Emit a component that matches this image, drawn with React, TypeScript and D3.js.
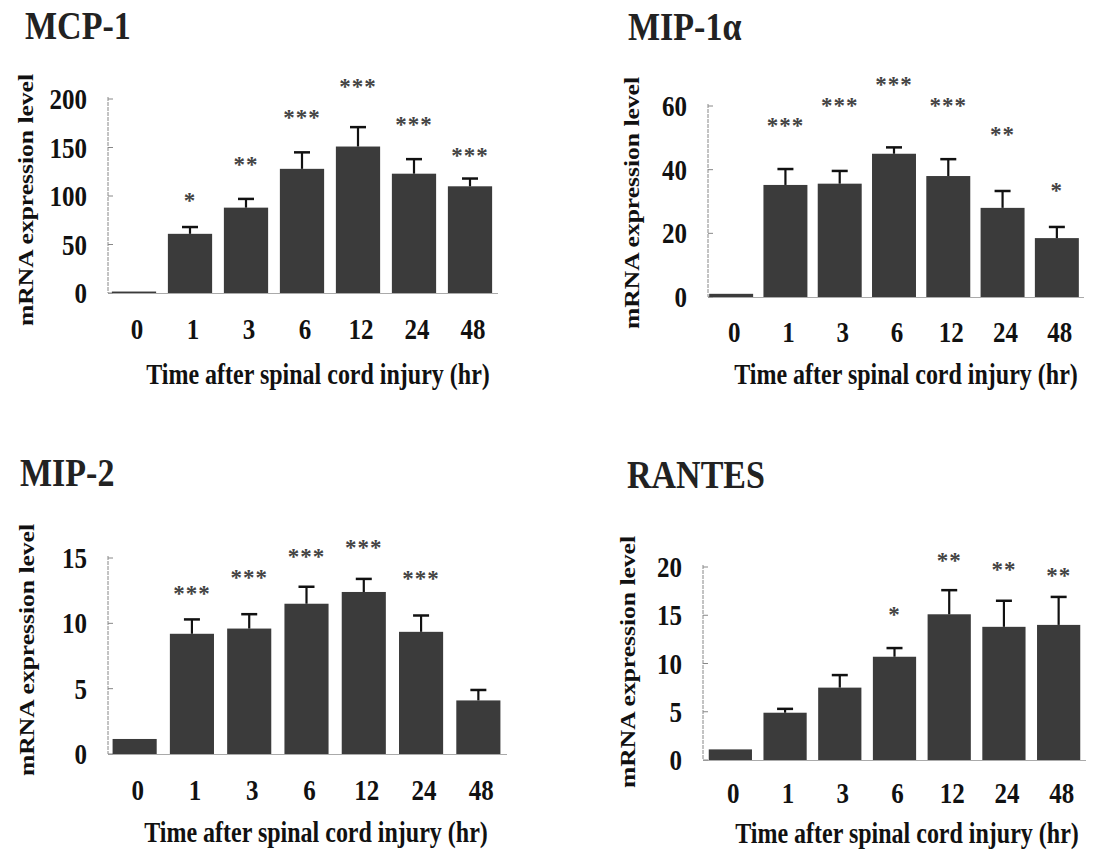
import React from 'react';
import * as d3 from 'd3';

// time points (hr)
const times = ['0', '1', '3', '6', '12', '24', '48'];

// MCP-1
const mcp1Mean = [1.5, 61, 88, 128, 151, 123, 110];
const mcp1Sem = [0, 7, 9, 17, 20, 15, 8];
const mcp1Stars = ['', '*', '**', '***', '***', '***', '***'];
const mcp1StarLevel = [0, 98, 135, 183, 215, 176, 144];
const mcp1Ticks = [0, 50, 100, 150, 200];

// MIP-1a
const mip1aMean = [1, 35.2, 35.6, 45, 38, 28, 18.5];
const mip1aSem = [0, 5, 4, 2, 5.3, 5.3, 3.5];
const mip1aStars = ['', '***', '***', '***', '***', '**', '*'];
const mip1aStarLevel = [0, 54.6, 60.9, 67.5, 60.9, 51.8, 34.3];
const mip1aTicks = [0, 20, 40, 60];

// MIP-2
const mip2Mean = [1.15, 9.2, 9.6, 11.5, 12.4, 9.35, 4.1];
const mip2Sem = [0, 1.1, 1.1, 1.3, 1.0, 1.25, 0.8];
const mip2Stars = ['', '***', '***', '***', '***', '***', ''];
const mip2StarLevel = [0, 12.5, 13.7, 15.3, 16.0, 13.6, 0];
const mip2Ticks = [0, 5, 10, 15];

// RANTES
const rantesMean = [1.1, 4.9, 7.5, 10.7, 15.1, 13.8, 14.0];
const rantesSem = [0, 0.4, 1.3, 0.9, 2.5, 2.7, 2.9];
const rantesStars = ['', '', '', '*', '**', '**', '**'];
const rantesStarLevel = [0, 0, 0, 15.3, 20.9, 20.0, 19.4];
const rantesTicks = [0, 5, 10, 15, 20];

const FONT = '"Liberation Serif", "Times New Roman", serif';
const BAR = '#3b3b3b';

// the scanned figure is a bit stretched vertically, so the text is too
const tall = (x: number, y: number, s: number) => `translate(${x},${y}) scale(1,${s})`;

type PanelProps = {
  title: string;
  titleX: number;
  titleY: number;
  mean: number[];
  sem: number[];
  stars: string[];
  starLevel: number[];
  ticks: number[];
  axisX: number;
  top: number;
  bottom: number;
  x0: number;
  x1: number;
  pad: number;
  yTitleX: number;
  yTitleY: number;
  xTitleX: number;
  xTitleY: number;
  xLabelY: number;
};

const Panel = (p: PanelProps) => {
  const yMax = p.ticks[p.ticks.length - 1];
  const y = d3.scaleLinear().domain([0, yMax]).range([p.bottom, p.top]);
  const x = d3.scaleBand().domain(times).range([p.x0, p.x1]).paddingInner(p.pad).paddingOuter(p.pad / 2);
  const bw = x.bandwidth();

  return (
    <g>
      <text transform={tall(p.titleX, p.titleY, 1.2)} fontFamily={FONT} fontWeight="bold" fontSize={34} fill="#222">
        {p.title}
      </text>

      {/* axes */}
      <line x1={p.axisX} x2={p.axisX} y1={p.top - 2} y2={p.bottom} stroke="#888" strokeWidth={1} strokeDasharray="4 1" />
      <line x1={p.axisX} x2={p.x1} y1={p.bottom + 0.5} y2={p.bottom + 0.5} stroke="#aaa" strokeWidth={1} />
      {p.ticks.map(t => (
        <g key={t}>
          <line x1={p.axisX} x2={p.axisX + 5} y1={y(t)} y2={y(t)} stroke="#888" strokeWidth={1} />
          <text transform={tall(p.axisX - 21, y(t), 1.15)} dy="0.35em" textAnchor="end" fontFamily={FONT} fontWeight="bold" fontSize={25} fill="#111">
            {t}
          </text>
        </g>
      ))}

      {/* bars, error bars, significance */}
      {times.map((t, i) => {
        const bx = x(t)!;
        const cx = bx + bw / 2;
        const top = y(p.mean[i]);
        const errTop = y(p.mean[i] + p.sem[i]);
        return (
          <g key={t}>
            <rect x={bx} y={top} width={bw} height={p.bottom - top} fill={BAR} />
            {p.sem[i] > 0 && (
              <g stroke="#111">
                <line x1={cx} x2={cx} y1={top} y2={errTop} strokeWidth={2.2} />
                <line x1={cx - 8} x2={cx + 8} y1={errTop} y2={errTop} strokeWidth={2.5} />
              </g>
            )}
            {p.stars[i] && (
              <text x={cx} y={y(p.starLevel[i])} dy={10} textAnchor="middle" fontFamily={FONT} fontWeight="bold" fontSize={23} letterSpacing={1} fill="#444">
                {p.stars[i]}
              </text>
            )}
            <text transform={tall(cx + 3, p.xLabelY, 1.15)} dy="0.35em" textAnchor="middle" fontFamily={FONT} fontWeight="bold" fontSize={25} fill="#111">
              {t}
            </text>
          </g>
        );
      })}

      <text transform={tall(p.xTitleX, p.xTitleY, 1.25)} dy="0.35em" textAnchor="middle" fontFamily={FONT} fontWeight="bold" fontSize={24} fill="#111">
        Time after spinal cord injury (hr)
      </text>
      <text
        transform={`translate(${p.yTitleX},${p.yTitleY}) rotate(-90)`}
        dy="0.35em"
        textAnchor="middle"
        fontFamily={FONT}
        fontWeight="bold"
        fontSize={21}
        textLength={252}
        lengthAdjust="spacingAndGlyphs"
        fill="#111"
      >
        mRNA expression level
      </text>
    </g>
  );
};

export default function App() {
  return (
    <div style={{ position: 'absolute', left: 0, top: 0 }}>
      <svg width={1120} height={851} style={{ display: 'block', background: '#fff' }}>
        <Panel
          title="MCP-1" titleX={25} titleY={39}
          mean={mcp1Mean} sem={mcp1Sem} stars={mcp1Stars} starLevel={mcp1StarLevel} ticks={mcp1Ticks}
          axisX={108} top={99} bottom={293} x0={106} x1={498} pad={0.21}
          yTitleX={26} yTitleY={200} xTitleX={318} xTitleY={373} xLabelY={329}
        />
        <Panel
          title="MIP-1α" titleX={628} titleY={40}
          mean={mip1aMean} sem={mip1aSem} stars={mip1aStars} starLevel={mip1aStarLevel} ticks={mip1aTicks}
          axisX={708} top={106} bottom={297} x0={704} x1={1084} pad={0.19}
          yTitleX={632} yTitleY={203} xTitleX={906} xTitleY={373} xLabelY={332}
        />
        <Panel
          title="MIP-2" titleX={20} titleY={486}
          mean={mip2Mean} sem={mip2Sem} stars={mip2Stars} starLevel={mip2StarLevel} ticks={mip2Ticks}
          axisX={108} top={558} bottom={754} x0={106} x1={507} pad={0.23}
          yTitleX={27} yTitleY={650} xTitleX={316} xTitleY={831} xLabelY={790}
        />
        <Panel
          title="RANTES" titleX={627} titleY={488}
          mean={rantesMean} sem={rantesSem} stars={rantesStars} starLevel={rantesStarLevel} ticks={rantesTicks}
          axisX={703} top={567} bottom={760} x0={703} x1={1086} pad={0.21}
          yTitleX={628} yTitleY={662} xTitleX={907} xTitleY={832} xLabelY={793}
        />
      </svg>
    </div>
  );
}
